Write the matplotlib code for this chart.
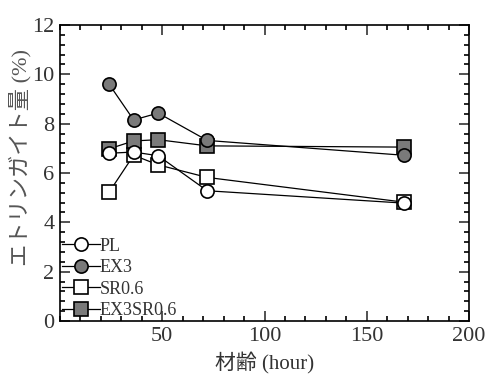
import matplotlib
matplotlib.use("Agg")
import matplotlib.pyplot as plt
from matplotlib.ticker import MultipleLocator

plt.rcParams['font.family'] = ['Liberation Serif', 'Noto Sans CJK JP']

# data
hours = [24, 36, 48, 72, 168]
pl = [6.8, 6.85, 6.7, 5.28, 4.78]
ex3 = [9.6, 8.15, 8.43, 7.32, 6.72]
sr06 = [5.22, 6.72, 6.33, 5.82, 4.82]
ex3sr06 = [6.98, 7.3, 7.35, 7.1, 7.05]

series_labels = ['PL', 'EX3', 'SR0.6', 'EX3SR0.6']
gray = '#7a7a7a'

fig = plt.figure(figsize=(4.86, 3.76), dpi=100)
ax = fig.add_axes([0.1235, 0.1463, 0.8415, 0.7872])

ms = 9.5
kw = dict(color='black', lw=0.9, mec='black', mew=1.2, markersize=ms)
ax.plot(hours, sr06, marker='s', mfc='white', label=series_labels[2], zorder=3, **kw)
ax.plot(hours, ex3sr06, marker='s', mfc=gray, label=series_labels[3], zorder=4, **kw)
ax.plot(hours, ex3, marker='o', mfc=gray, label=series_labels[1], zorder=5, **kw)
ax.plot(hours, pl, marker='o', mfc='white', label=series_labels[0], zorder=6, **kw)

ax.set_xlim(0, 200)
ax.set_ylim(0, 12)
ax.xaxis.set_major_locator(MultipleLocator(50))
ax.xaxis.set_minor_locator(MultipleLocator(10))
ax.yaxis.set_major_locator(MultipleLocator(2))
ax.yaxis.set_minor_locator(MultipleLocator(0.4))
ax.set_xticks([50, 100, 150, 200])
ax.tick_params(which='both', direction='in', top=True, right=True, width=1.2)
ax.tick_params(which='major', length=7, labelsize=16, colors='#333333', pad=4)
ax.tick_params(which='minor', length=3.5)
for s in ax.spines.values():
    s.set_linewidth(1.2)

handles, labels = ax.get_legend_handles_labels()
order = [labels.index(l) for l in series_labels]
ax.legend([handles[i] for i in order], [labels[i] for i in order],
          loc='lower left', frameon=False, fontsize=13, borderaxespad=0.0,
          borderpad=0.1, handlelength=2.1, handletextpad=0.0,
          labelspacing=0.25, labelcolor='#333333')

fig.text(20 / 486, 1 - 158 / 376, 'エトリンガイト量 (%)', rotation=90,
         ha='center', va='center', fontsize=16, color='#555555')
fig.text(265 / 486, 1 - 362 / 376, '材齢 (hour)', ha='center', va='center',
         fontsize=15, color='#333333')

fig.savefig('out.png', dpi=100)
